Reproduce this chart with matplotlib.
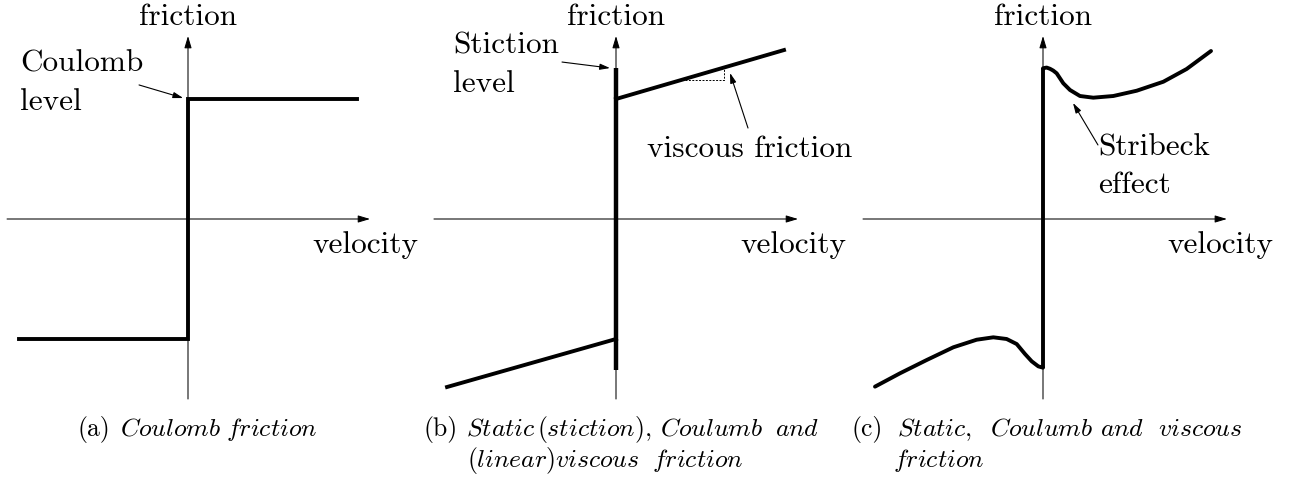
import numpy as np
import matplotlib
matplotlib.use('Agg')
import matplotlib.pyplot as plt

plt.rcParams['mathtext.fontset'] = 'cm'
plt.rcParams['font.family'] = 'cmr10'
plt.rcParams['axes.formatter.use_mathtext'] = True

# friction levels (normalised: Coulomb level = 1)
coulomb_v = [-1.41, 0.0, 0.0, 1.41]
coulomb_f = [-1.0, -1.0, 1.0, 1.0]

stiction_level = 1.255
visc_pos_v = [0.0, 1.40]
visc_pos_f = [1.0, 1.408]
visc_neg_v = [-1.408, 0.0]
visc_neg_f = [-1.40, -1.0]
# slope triangle under the viscous line
tri_v = [0.575, 0.90, 0.90]
tri_f = [1.158, 1.158, 1.26]

# Stribeck curve, read along the drawn shape
strib_pos_v = [0.0, 0.03, 0.058, 0.085, 0.114, 0.169, 0.225, 0.308, 0.419,
               0.586, 0.781, 1.003, 1.197, 1.40]
strib_pos_f = [1.256, 1.262, 1.252, 1.237, 1.214, 1.131, 1.075, 1.025, 1.011,
               1.025, 1.069, 1.144, 1.250, 1.400]
strib_neg_v = [-1.40, -1.192, -0.969, -0.747, -0.553, -0.414, -0.303, -0.219,
               -0.15, -0.094, -0.039, 0.0]
strib_neg_f = [-1.397, -1.286, -1.175, -1.069, -1.006, -0.986, -1.0, -1.042,
               -1.125, -1.186, -1.228, -1.239]

W, H = 1306, 480
S = 120.0          # pixels per unit
OY = 219           # pixel row of the velocity axis

fig = plt.figure(figsize=(W / 100, H / 100), dpi=100)

FS = 22.5
CFS = 18.5
THICK = 2.8
AX_LW = 0.75


def make_panel(left, right, ox):
    ax = fig.add_axes([left / W, 0, (right - left) / W, 1])
    ax.set_xlim((left - ox) / S, (right - ox) / S)
    ax.set_ylim((OY - H) / S, OY / S)
    ax.axis('off')
    return ax


def draw_axes(ax, xlo, xhi, ylo=-1.5, yhi=1.525):
    arr = dict(arrowstyle='-|>,head_length=0.6,head_width=0.18', lw=AX_LW,
               color='black', mutation_scale=12, shrinkA=0, shrinkB=0)
    ax.annotate('', xy=(xhi, 0), xytext=(xlo, 0), arrowprops=arr)
    ax.annotate('', xy=(0, yhi), xytext=(0, ylo), arrowprops=arr)
    ax.text(0, 1.617, 'friction', fontsize=FS, ha='center', va='baseline')
    ax.text(1.92, -0.283, 'velocity', fontsize=FS, ha='right', va='baseline')


def pointer(ax, tip, tail):
    ax.annotate('', xy=tip, xytext=tail,
                arrowprops=dict(arrowstyle='-|>,head_length=0.6,head_width=0.18',
                                lw=0.8, color='black', mutation_scale=10,
                                shrinkA=0, shrinkB=0))


# (a) Coulomb friction
ax = make_panel(0, 430, 188)
draw_axes(ax, -1.508, 1.517)
ax.plot(coulomb_v, coulomb_f, color='black', lw=THICK, solid_joinstyle='miter')
ax.text(-1.40, 1.225, 'Coulomb', fontsize=FS, va='baseline')
ax.text(-1.40, 0.908, 'level', fontsize=FS, va='baseline')
pointer(ax, (-0.04, 1.008), (-0.408, 1.117))

# (b) stiction + Coulomb + viscous
ax = make_panel(430, 860, 616)
draw_axes(ax, -1.517, 1.517)
ax.plot([0, 0], [-stiction_level, stiction_level], color='black', lw=THICK + 0.4,
        solid_capstyle='butt')
ax.plot(visc_pos_v, visc_pos_f, color='black', lw=THICK)
ax.plot(visc_neg_v, visc_neg_f, color='black', lw=THICK)
ax.plot(tri_v, tri_f, color='black', lw=0.7, ls=(0, (2, 1.5)))
ax.text(-1.358, 1.383, 'Stiction', fontsize=FS, va='baseline')
ax.text(-1.358, 1.058, 'level', fontsize=FS, va='baseline')
pointer(ax, (-0.05, 1.258), (-0.45, 1.308))
ax.text(0.258, 0.517, 'viscous friction', fontsize=FS, va='baseline')
pointer(ax, (0.95, 1.217), (1.10, 0.758))

# (c) Stribeck
ax = make_panel(860, 1306, 1043)
draw_axes(ax, -1.50, 1.533)
ax.plot([0, 0], [strib_neg_f[-1], strib_pos_f[0]], color='black', lw=THICK,
        solid_capstyle='butt')
ax.plot(strib_pos_v, strib_pos_f, color='black', lw=THICK, solid_capstyle='round',
        solid_joinstyle='round')
ax.plot(strib_neg_v, strib_neg_f, color='black', lw=THICK, solid_capstyle='round',
        solid_joinstyle='round')
ax.text(0.458, 0.533, 'Stribeck', fontsize=FS, va='baseline')
ax.text(0.458, 0.217, 'effect', fontsize=FS, va='baseline')
pointer(ax, (0.25, 0.967), (0.458, 0.617))


# captions, typeset word by word (pixel positions -> figure fractions)
def cap(x, y, s, italic=True):
    txt = r'$\mathit{%s}$' % s if italic else s
    fig.text(x / W, 1 - y / H, txt, fontsize=CFS, va='baseline', ha='left')


L1, L2 = 436, 467

cap(77, L1, '(a)', italic=False)
cap(120, L1, 'Coulomb')
cap(226, L1, 'friction')

cap(423, L1, '(b)', italic=False)
cap(466, L1, 'Static')
cap(537, L1, '(stiction){,}')
cap(660, L1, 'Coulumb')
cap(775, L1, 'and')
cap(467, L2, '(linear)')
cap(555, L2, 'viscous')
cap(652, L2, 'friction')

cap(852, L1, '(c)', italic=False)
cap(897, L1, 'Static{,}')
cap(990, L1, 'Coulumb')
cap(1100, L1, 'and')
cap(1158, L1, 'viscous')
cap(893, L2, 'friction')

fig.savefig('out.png', dpi=100)
